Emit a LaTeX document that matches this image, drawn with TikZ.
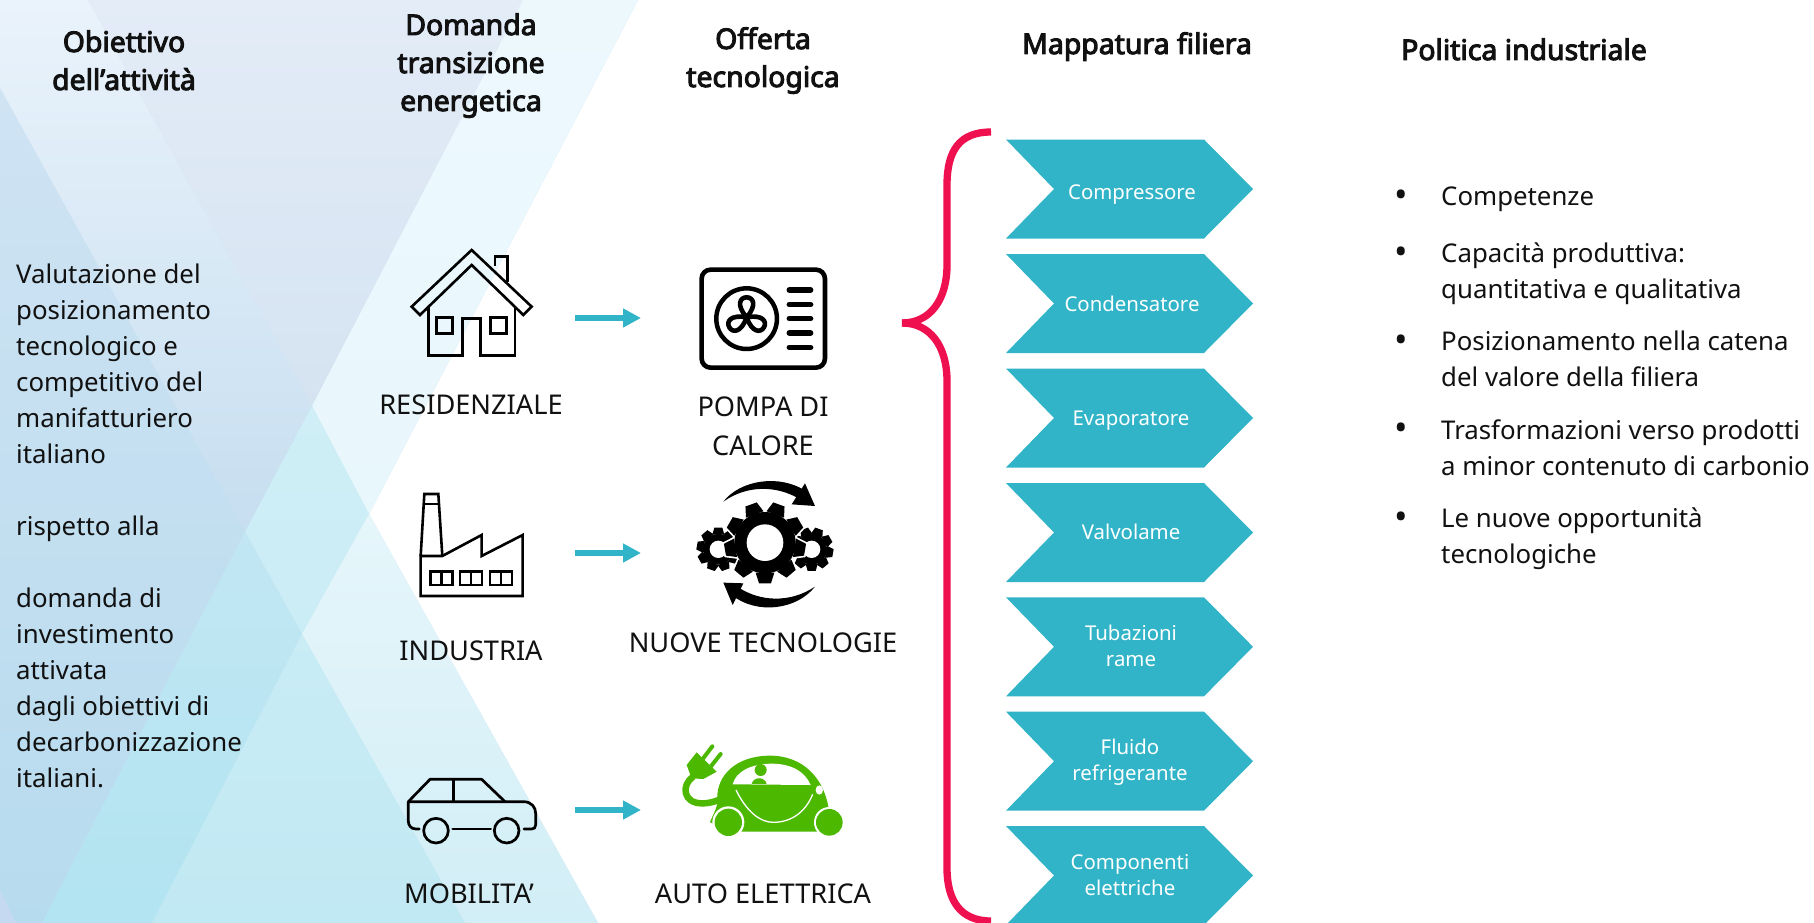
\documentclass[tikz,border=0pt]{standalone}
\usepackage{fontspec}
\setmainfont{Noto Sans}
\newfontfamily\headfont[FakeBold=3.5]{Noto Sans}
\usetikzlibrary{arrows.meta}
\definecolor{chevteal}{HTML}{31B4C8}
\definecolor{bracered}{HTML}{EF1050}
\definecolor{evgreen}{HTML}{4CB800}
\definecolor{ink}{HTML}{111111}
\definecolor{bgbase}{HTML}{C8E4F2}
\definecolor{aT}{HTML}{EAF3FB}\definecolor{aB}{HTML}{C6DEF0}
\definecolor{bT}{HTML}{E3ECF7}\definecolor{bB}{HTML}{D5E3F1}
\definecolor{cT}{HTML}{EDF8FD}\definecolor{cB}{HTML}{E8F7FC}
\definecolor{dT}{HTML}{CFE3F3}\definecolor{dB}{HTML}{B7DBEE}
\definecolor{eT}{HTML}{CFEEF6}\definecolor{eB}{HTML}{CBEDF6}
\definecolor{fT}{HTML}{C2E6F3}\definecolor{fB}{HTML}{B2E4F1}
\definecolor{gT}{HTML}{E6F6FB}\definecolor{gB}{HTML}{D2EEF6}
\definecolor{hT}{HTML}{C9ECF5}\definecolor{hB}{HTML}{C1E9F3}
\definecolor{cornerbg}{HTML}{C5DAF0}
\tikzset{
  head/.style={inner sep=0,anchor=base,align=center,text=ink,font=\headfont\fontsize{28.4}{38}\selectfont},
  body/.style={inner sep=0,anchor=base west,align=left,text=ink,font=\fontsize{25.8}{36}\selectfont},
  bulletmark/.style={inner sep=0,anchor=base,text=ink,font=\fontsize{36}{36}\selectfont},
  lab/.style={inner sep=0,anchor=base,align=center,text=ink,font=\fontsize{27.2}{39}\selectfont},
  chevtext/.style={inner sep=0,anchor=base,align=center,text=white,font=\fontsize{20.4}{26}\selectfont},
  flow/.style={draw=chevteal,line width=6.4pt,-{Triangle[length=18pt,width=18pt]}},
  icon/.style={draw=black,line width=2.6pt,line join=miter},
  bracestroke/.style={draw=bracered,line width=7.3pt},
}
\newcommand\chev[1]{\fill[chevteal] (1006,#1) -- (1204,#1) -- (1253,#1+49.5) -- (1204,#1+99) -- (1006,#1+99) -- (1054,#1+49.5) -- cycle;}
% gear centred on the origin: teeth, outer radius, root radius, tooth half widths, phase
\newcommand\gearfill[6]{%
  \foreach \i in {1,...,#1}{\fill[black,rotate=\i*360/#1+#6] (-#4,-#3+2) -- (-#5,-#2) -- (#5,-#2) -- (#4,-#3+2) -- cycle;}
  \fill[black] (0,0) circle[radius=#3];}
\newcommand\gearhalo[6]{%
  \foreach \i in {1,...,#1}{\filldraw[white,line width=3.4pt,rotate=\i*360/#1+#6] (-#4,-#3+2) -- (-#5,-#2) -- (#5,-#2) -- (#4,-#3+2) -- cycle;}
  \filldraw[white,line width=3.4pt] (0,0) circle[radius=#3];}
\begin{document}
\begin{tikzpicture}[x=1pt,y=-1pt]
\useasboundingbox (0,0) rectangle (1814,923);
\fill[white] (0,0) rectangle (1814,923);
% background facets
\fill[bgbase] (0,0) -- (638,0) -- (369,514) -- (598,923) -- (0,923) -- cycle;
\shade[top color=aT,bottom color=aB] (0,0) -- (88,0) -- (312,406) -- (245,532) -- (0,88) -- cycle;
\shade[top color=bT,bottom color=bB] (88,0) -- (523,0) -- (312,406) -- cycle;
\shade[top color=cT,bottom color=cB] (523,0) -- (638,0) -- (369,514) -- (312,406) -- cycle;
\shade[top color=dT,bottom color=dB] (0,88) -- (245,532) -- (42,923) -- (0,923) -- cycle;
\fill[cornerbg] (0,890) -- (16,923) -- (0,923) -- cycle;
\shade[top color=eT,bottom color=eB] (312,406) -- (369,514) -- (302,634) -- (245,532) -- cycle;
\shade[top color=fT,bottom color=fB] (245,532) -- (302,634) -- (152,923) -- (42,923) -- cycle;
\shade[top color=gT,bottom color=gB] (369,514) -- (598,923) -- (465,923) -- (302,634) -- cycle;
\shade[top color=hT,bottom color=hB] (302,634) -- (465,923) -- (152,923) -- cycle;

% headers
\node[head] (hObiettivo) at (124,90) {Obiettivo\\dell’attività};
\node[head] (hDomanda) at (471,111) {Domanda\\transizione\\energetica};
\node[head] (hOfferta) at (763,87) {Offerta\\tecnologica};
\node[head] (hMappatura) at (1137,54) {Mappatura filiera};
\node[head,anchor=base west] (hPolitica) at (1401,60) {Politica industriale};

% left text
\node[body] (leftText) at (16,787) {Valutazione del\\posizionamento\\tecnologico e\\competitivo del\\manifatturiero\\italiano\\[36pt]rispetto alla\\[36pt]domanda di\\investimento\\attivata\\dagli obiettivi di\\decarbonizzazione\\italiani.};

% right list
\foreach \nm/\yy in {b1/207,b2/264,b3/352,b4/440,b5/529}{\node[bulletmark] (\nm) at (1401,\yy) {•};}
\node[body] (t1) at (1441,205) {Competenze};
\node[body] (t2) at (1441,298) {Capacità produttiva:\\quantitativa e qualitativa};
\node[body] (t3) at (1441,386) {Posizionamento nella catena\\del valore della filiera};
\node[body] (t4) at (1441,475) {Trasformazioni verso prodotti\\a minor contenuto di carbonio};
\node[body] (t5) at (1441,563) {Le nuove opportunità\\tecnologiche};

% column labels
\node[lab] (lRes) at (471,414) {RESIDENZIALE};
\node[lab] (lPompa) at (763,455) {POMPA DI\\CALORE};
\node[lab] (lInd) at (471,660) {INDUSTRIA};
\node[lab] (lNuove) at (763,652) {NUOVE TECNOLOGIE};
\node[lab] (lMob) at (469,903) {MOBILITA’};
\node[lab] (lAuto) at (763,903) {AUTO ELETTRICA};

% flow arrows
\coordinate (a1s) at (575,318); \coordinate (a1e) at (641,318);
\coordinate (a2s) at (575,553); \coordinate (a2e) at (641,553);
\coordinate (a3s) at (575,810); \coordinate (a3e) at (641,810);
\draw[flow] (a1s) -- (a1e);
\draw[flow] (a2s) -- (a2e);
\draw[flow] (a3s) -- (a3e);

% brace
\draw[bracestroke] (902,323) .. controls (930,323) and (947,300) .. (947,265) -- (947,185) .. controls (947,150) and (960,132) .. (991,132);
\draw[bracestroke] (902,323) .. controls (930,323) and (947,346) .. (947,381) -- (947,868) .. controls (947,900) and (960,921) .. (991,921);

% chevrons
\chev{139.5}\chev{254}\chev{368.5}\chev{483}\chev{597.3}\chev{711.7}\chev{826}
\node[chevtext] (c1) at (1132,199) {Compressore};
\node[chevtext] (c2) at (1132,311) {Condensatore};
\node[chevtext] (c3) at (1131,425) {Evaporatore};
\node[chevtext] (c4) at (1131,539) {Valvolame};
\node[chevtext] (c5) at (1131,666) {Tubazioni\\rame};
\node[chevtext] (c6) at (1130,780) {Fluido\\refrigerante};
\node[chevtext] (c7) at (1130,895) {Componenti\\elettriche};

% house (zoom coordinates)
\begin{scope}[shift={(380,230)},x=0.3333pt,y=-0.3333pt]
\draw[icon] (275,60) -- (455,230) -- (430,255) -- (275,105) -- (120,255) -- (95,230) -- cycle;
\draw[icon] (145,232) -- (145,377) -- (247,377) -- (247,265) -- (302,265) -- (302,377) -- (405,377) -- (405,232);
\draw[icon] (170,262) rectangle (218,310);
\draw[icon] (332,262) rectangle (380,310);
\draw[icon] (345,108) -- (345,80) -- (382,80) -- (382,155);
% heat pump
\draw[draw=black,line width=4.6pt,rounded corners=9pt] (965,119) rectangle (1335,413);
\draw[draw=black,line width=4.5pt] (1100,266) circle[radius=91];
\foreach \yy in {180,224,266,309,352}{\draw[black,line width=5.5pt,line cap=round] (1228,\yy) -- (1292,\yy);}
\foreach \aa in {0,120,240}{\draw[black,line width=4.6pt,line join=round,rotate around={\aa:(1100,262)}] (1100,262) .. controls (1068,225) and (1080,202) .. (1100,202) .. controls (1120,202) and (1132,225) .. (1100,262);}
\end{scope}

% factory
\begin{scope}[shift={(380,470)},x=0.3333pt,y=-0.3333pt]
\draw[icon] (122,378) -- (122,258) -- (187,258) -- (305,195) -- (305,258) -- (428,195) -- (428,378) -- cycle;
\draw[icon] (122,258) -- (133,72) -- (175,72) -- (187,258);
\draw[icon] (130,102) -- (178,102);
\foreach \xa/\xb in {152/218,240/306,330/396}{\draw[icon] (\xa,305) rectangle (\xb,345); \draw[icon] ({(\xa+\xb)/2},305) -- ({(\xa+\xb)/2},345);}
\end{scope}

% gears
\begin{scope}[shift={(660,470)},x=0.3333pt,y=-0.3333pt]
\begin{scope}[shift={(175,238)}]\gearfill{9}{65}{46}{18}{12}{0}\end{scope}
\begin{scope}[shift={(455,238)}]\gearfill{9}{65}{46}{18}{12}{20}\end{scope}
\fill[white] (175,238) circle[radius=26];
\fill[white] (455,238) circle[radius=26];
\fill[white] (175,222) rectangle (215,254);
\fill[white] (415,222) rectangle (455,254);
\begin{scope}[shift={(315,218)}]\gearhalo{9}{122}{92}{28}{18}{180}\gearfill{9}{122}{92}{28}{18}{180}\end{scope}
\fill[white] (315,218) circle[radius=55];
\fill[black] (190,95) .. controls (240,30) and (360,10) .. (440,65) -- (420,88) .. controls (350,45) and (260,45) .. (190,95) -- cycle;
\fill[black] (435,40) -- (465,108) -- (395,103) -- cycle;
\fill[black] (465,350) .. controls (410,420) and (290,435) .. (215,375) -- (235,352) .. controls (300,395) and (390,400) .. (465,350) -- cycle;
\fill[black] (190,338) -- (250,340) -- (218,405) -- cycle;
\end{scope}

% mobility car
\begin{scope}[shift={(380,720)},x=0.3333pt,y=-0.3333pt]
\draw[icon,line width=2.7pt,line cap=round,line join=round] (118,327) -- (108,327) .. controls (92,327) and (85,315) .. (85,303) -- (85,245) -- (430,245) .. controls (455,245) and (467,262) .. (467,280) -- (467,315) .. controls (467,323) and (462,327) .. (455,327) -- (432,327);
\draw[icon,line width=2.7pt,line cap=round] (218,327) -- (332,327);
\draw[icon,line width=2.7pt] (168,332) circle[radius=37];
\draw[icon,line width=2.7pt] (380,332) circle[radius=37];
\draw[icon,line width=2.7pt,line join=round] (85,245) -- (150,178) -- (305,178) -- (375,245);
\draw[icon,line width=2.7pt] (220,178) -- (220,245);
\end{scope}

% electric car
\begin{scope}[shift={(660,735)},x=0.3333pt,y=-0.3333pt]
\fill[evgreen] (150,262) .. controls (160,235) and (175,215) .. (172,190) .. controls (170,120) and (230,62) .. (330,62) .. controls (430,62) and (490,130) .. (505,215) .. controls (520,240) and (520,280) .. (490,290) -- (240,290) .. controls (210,290) and (170,270) .. (150,262) -- cycle;
\fill[white] (218,148) .. controls (228,110) and (270,88) .. (330,86) .. controls (395,85) and (435,110) .. (452,150) -- cycle;
\fill[evgreen] (302,105) circle[radius=18];
\fill[evgreen] (275,147) .. controls (280,124) and (315,124) .. (320,147) -- cycle;
\fill[white] (478,165) ellipse[x radius=11,y radius=14];
\draw[white,line width=1.3pt] (228,165) .. controls (260,230) and (300,262) .. (340,262) .. controls (390,262) and (435,235) .. (458,178);
\fill[white] (205,262) circle[radius=48];
\fill[evgreen] (205,262) circle[radius=41];
\fill[white] (508,262) circle[radius=46];
\fill[evgreen] (508,262) circle[radius=40];
\draw[evgreen,line width=6.5pt] (100,125) .. controls (62,150) and (70,205) .. (125,205) .. controls (150,205) and (165,200) .. (182,192);
\fill[evgreen] (110,52) -- (170,110) -- (130,132) -- (95,130) -- (80,90) -- cycle;
\draw[evgreen,line width=4pt,line cap=round] (128,72) -- (157,34);
\draw[evgreen,line width=4pt,line cap=round] (152,95) -- (182,57);
\end{scope}
\end{tikzpicture}
\end{document}
